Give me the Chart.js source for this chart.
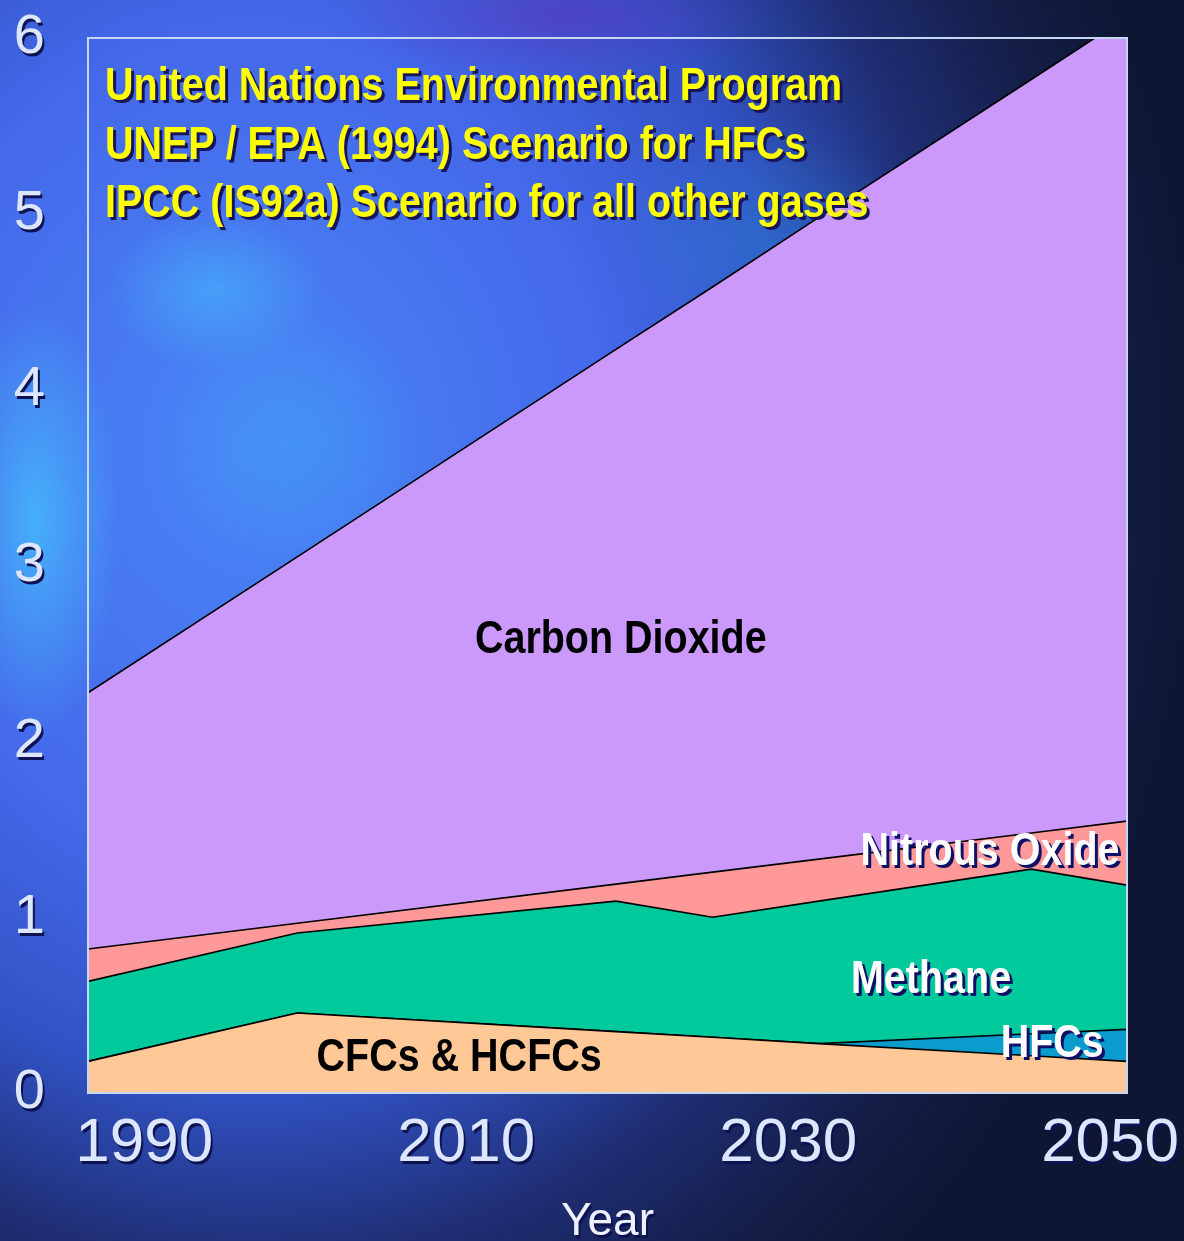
<!DOCTYPE html>
<html>
<head>
<meta charset="utf-8">
<title>Greenhouse gas forcing scenario</title>
<script src="https://cdn.jsdelivr.net/npm/chart.js@4.4.1/dist/chart.umd.min.js"></script>
<style>
  html, body { margin: 0; padding: 0; }
  body {
    width: 1184px;
    height: 1241px;
    overflow: hidden;
    background:
      radial-gradient(ellipse 85px 220px at 35px 520px, rgba(70, 200, 255, 0.7), rgba(70, 200, 255, 0) 100%),
      radial-gradient(ellipse 110px 80px at 215px 290px, rgba(70, 190, 255, 0.55), rgba(70, 190, 255, 0) 100%),
      radial-gradient(ellipse 130px 130px at 300px 440px, rgba(60, 170, 250, 0.4), rgba(60, 170, 250, 0) 100%),
      radial-gradient(ellipse 160px 120px at 760px 240px, rgba(40, 140, 210, 0.35), rgba(40, 140, 210, 0) 100%),
      radial-gradient(ellipse 220px 70px at 560px 15px, rgba(95, 50, 190, 0.55), rgba(95, 50, 190, 0) 100%),
      radial-gradient(ellipse 950px 1100px at 250px 450px, #4a86f6 0%, #4468ea 38%, #3152c4 58%, #1f2e74 74%, #141e48 88%, #0e1634 100%);
  }
  canvas { display: block; }
</style>
</head>
<body>
<canvas id="forcing" width="1184" height="1241"></canvas>
<script>
// years where the scenario curves change slope
var years = [1986.5, 1999.5, 2019.3, 2025.3, 2031.9, 2045.1, 2051.05];

// contribution of each gas (stacked, bottom to top)
var cfcs    = [0.18, 0.455, 0.349, 0.317, 0.281, 0.212, 0.18];
var hfcs    = [0, 0, 0, 0, 0, 0.125, 0.182];
var methane = [0.455, 0.455, 0.742, 0.683, 0.81, 0.936, 0.82];
var nitrous = [0.184, 0.055, 0.097, 0.256, 0.239, 0.206, 0.364];
var carbon  = [1.457, 2.084, 3.041, 3.328, 3.65, 4.285, 4.573];

var yearTicks = [1990, 2010, 2030, 2050];
var valueTicks = [0, 1, 2, 3, 4, 5, 6];

var titleLines = [
    'United Nations Environmental Program',
    'UNEP / EPA (1994) Scenario for HFCs',
    'IPCC (IS92a) Scenario for all other gases'
];

var PLAIN = '"Liberation Sans", Arial, sans-serif';
// no narrow face installed, so bold text is squeezed horizontally instead
var SQUEEZE = 0.84;

function series(values) {
    return years.map(function (yr, i) { return { x: yr, y: values[i] }; });
}

function area(label, values, color, fill) {
    return {
        label: label,
        data: series(values),
        backgroundColor: color,
        borderColor: '#000000',
        borderWidth: 1.6,
        pointRadius: 0,
        tension: 0,
        fill: fill
    };
}

// gas names written inside the bands, placed in data units
var bandLabels = [
    { text: 'Carbon Dioxide', x: 2019.6, y: 2.5,   align: 'center', color: '#000000', shadow: false },
    { text: 'Nitrous Oxide',  x: 2034.5, y: 1.295, align: 'left',   color: '#ffffff', shadow: true },
    { text: 'Methane',        x: 2033.9, y: 0.567, align: 'left',   color: '#ffffff', shadow: true },
    { text: 'HFCs',           x: 2043.2, y: 0.203, align: 'left',   color: '#ffffff', shadow: true },
    { text: 'CFCs & HCFCs',   x: 2000.7, y: 0.123, align: 'left',   color: '#000000', shadow: false }
];

function narrowText(ctx, text, x, y, align) {
    ctx.save();
    ctx.translate(x, y);
    ctx.scale(SQUEEZE, 1);
    ctx.textAlign = align;
    ctx.fillText(text, 0, 0);
    ctx.restore();
}

var textShadow = {
    id: 'textShadow',
    beforeDraw: function (chart) {
        var ctx = chart.ctx;
        ctx.save();
        ctx.shadowColor = '#0d1250';
        ctx.shadowOffsetX = 2;
        ctx.shadowOffsetY = 3;
        ctx.shadowBlur = 0;
    },
    beforeDatasetsDraw: function (chart) {
        chart.ctx.restore();
    }
};

var overlay = {
    id: 'overlay',
    afterDatasetsDraw: function (chart) {
        var ctx = chart.ctx;
        var a = chart.chartArea;
        var xs = chart.scales.x;
        var ys = chart.scales.y;

        // frame round the plot
        ctx.save();
        ctx.strokeStyle = '#c4d8f2';
        ctx.lineWidth = 2;
        ctx.strokeRect(a.left, a.top, a.right - a.left, a.bottom - a.top);
        ctx.restore();

        ctx.save();
        ctx.font = 'bold 47px ' + PLAIN;
        ctx.textBaseline = 'alphabetic';
        bandLabels.forEach(function (lab) {
            if (lab.shadow) {
                ctx.shadowColor = '#0e0f66';
                ctx.shadowOffsetX = 3;
                ctx.shadowOffsetY = 3;
            } else {
                ctx.shadowColor = 'rgba(0,0,0,0)';
            }
            ctx.fillStyle = lab.color;
            narrowText(ctx, lab.text, xs.getPixelForValue(lab.x), ys.getPixelForValue(lab.y), lab.align);
        });

        // scenario heading
        ctx.fillStyle = '#ffff00';
        ctx.shadowColor = '#17145a';
        ctx.shadowOffsetX = 3;
        ctx.shadowOffsetY = 3;
        titleLines.forEach(function (line, i) {
            narrowText(ctx, line, a.left + 17, a.top + 62 + i * 58.5, 'left');
        });
        ctx.restore();
    }
};

new Chart(document.getElementById('forcing'), {
    type: 'line',
    data: {
        datasets: [
            area('CFCs & HCFCs', cfcs, '#ffc896', 'origin'),
            area('HFCs', hfcs, '#0a9ccc', '-1'),
            area('Methane', methane, '#00c99b', '-1'),
            area('Nitrous Oxide', nitrous, '#ff9999', '-1'),
            area('Carbon Dioxide', carbon, '#cb99fb', '-1')
        ]
    },
    options: {
        responsive: false,
        animation: false,
        layout: { padding: { top: 38, right: 57, left: 0, bottom: 0 } },
        plugins: {
            legend: { display: false },
            tooltip: { enabled: false }
        },
        scales: {
            x: {
                type: 'linear',
                min: years[0],
                max: years[years.length - 1],
                grid: { display: false },
                border: { display: false },
                afterFit: function (scale) {
                    scale.height = 148;
                    scale.paddingLeft = 0;
                    scale.paddingRight = 0;
                },
                afterBuildTicks: function (scale) {
                    scale.ticks = yearTicks.map(function (v) { return { value: v }; });
                },
                ticks: {
                    color: '#dde6ff',
                    padding: 12,
                    maxRotation: 0,
                    autoSkip: false,
                    font: { family: PLAIN, size: 62, lineHeight: 1 },
                    callback: function (v) { return String(v); }
                },
                title: {
                    display: true,
                    text: 'Year',
                    color: '#eef2ff',
                    padding: { top: 0, bottom: -4 },
                    font: { family: PLAIN, size: 46, lineHeight: 1 }
                }
            },
            y: {
                stacked: true,
                min: 0,
                max: 6,
                grid: { display: false },
                border: { display: false },
                afterFit: function (scale) {
                    scale.width = 88;
                    scale.paddingTop = 0;
                    scale.paddingBottom = 0;
                },
                afterBuildTicks: function (scale) {
                    scale.ticks = valueTicks.map(function (v) { return { value: v }; });
                },
                ticks: {
                    color: '#dde6ff',
                    padding: 43 - 8,
                    font: { family: PLAIN, size: 56, lineHeight: 1 }
                }
            }
        }
    },
    plugins: [textShadow, overlay]
});
</script>
</body>
</html>
